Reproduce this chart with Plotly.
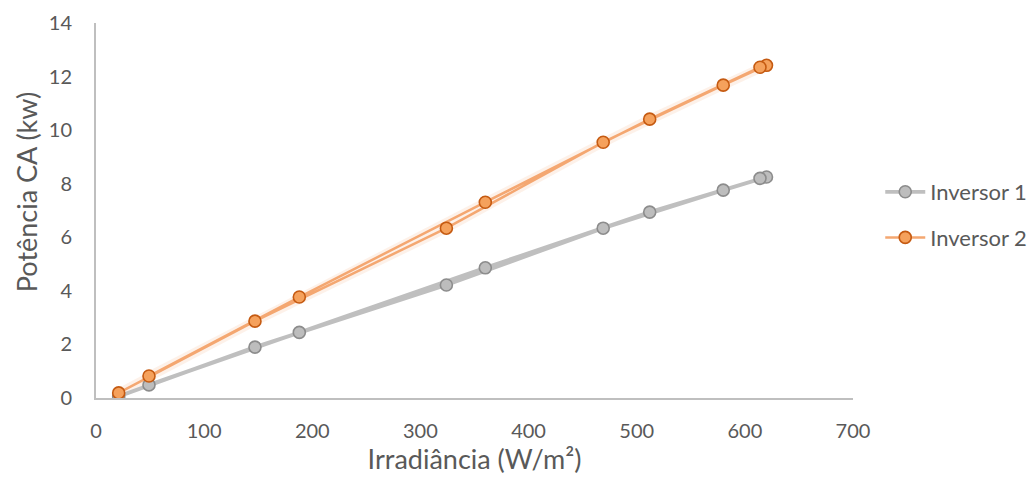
import plotly.graph_objects as go

# Daily sequence: irradiance rises through the morning and falls in the afternoon
irradiancia = [21, 147, 324, 469, 580, 620, 614, 512, 360, 188, 49]
inversor_1 = [0.06, 1.90, 4.22, 6.34, 7.76, 8.25, 8.20, 6.94, 4.86, 2.45, 0.49]
inversor_2 = [0.19, 2.87, 6.34, 9.55, 11.68, 12.42, 12.35, 10.41, 7.31, 3.77, 0.82]

x_ticks = [0, 100, 200, 300, 400, 500, 600, 700]
y_ticks = [0, 2, 4, 6, 8, 10, 12, 14]

FONT = "Lato"
TEXT = "#595959"
AXIS = "#BFBFBF"

fig = go.Figure()

# soft glow under the orange series
fig.add_trace(go.Scatter(
    x=irradiancia, y=inversor_2, mode="lines",
    line=dict(color="rgba(244,177,131,0.18)", width=9),
    hoverinfo="skip", showlegend=False, legendgroup="g2",
))

fig.add_trace(go.Scatter(
    x=irradiancia, y=inversor_1, mode="lines+markers", name="Inversor 1",
    legendgroup="g1",
    line=dict(color="#BFBFBF", width=3.8),
    marker=dict(size=12, color="#BDBDBD", line=dict(color="#8C8C8C", width=1.6)),
))
fig.add_trace(go.Scatter(
    x=irradiancia, y=inversor_2, mode="lines+markers", name="Inversor 2",
    legendgroup="g2",
    line=dict(color="#F4A771", width=2.5),
    marker=dict(size=12, color="#F5A15C", line=dict(color="#C55A11", width=1.6)),
))

fig.update_layout(
    width=1034, height=484,
    margin=dict(l=96, r=181, t=23, b=86, autoexpand=False),
    paper_bgcolor="white", plot_bgcolor="white",
    font=dict(family=FONT, color=TEXT, size=20),
    showlegend=True,
    legend=dict(
        x=1.036, y=0.488, xanchor="left", yanchor="middle",
        font=dict(size=22, color=TEXT),
        traceorder="grouped", tracegroupgap=14,
        itemwidth=40,
    ),
    xaxis=dict(
        range=[0, 700], tickvals=x_ticks, showgrid=False, zeroline=False,
        showline=True, linecolor=AXIS, linewidth=2,
        ticks="", ticklabelstandoff=14,
        title=dict(text="Irradiância (W/m²)", font=dict(size=27, color=TEXT), standoff=6),
    ),
    yaxis=dict(
        range=[0, 14], tickvals=y_ticks, showgrid=False, zeroline=False,
        showline=True, linecolor=AXIS, linewidth=2,
        ticks="", ticklabelstandoff=18,
    ),
    annotations=[dict(
        text="Potência CA (kw)", textangle=-90, showarrow=False,
        xref="paper", yref="paper", x=0, y=0.549,
        xanchor="center", yanchor="middle", xshift=-70,
        font=dict(size=27, color=TEXT),
    )],
)

fig.write_html("out.html")
